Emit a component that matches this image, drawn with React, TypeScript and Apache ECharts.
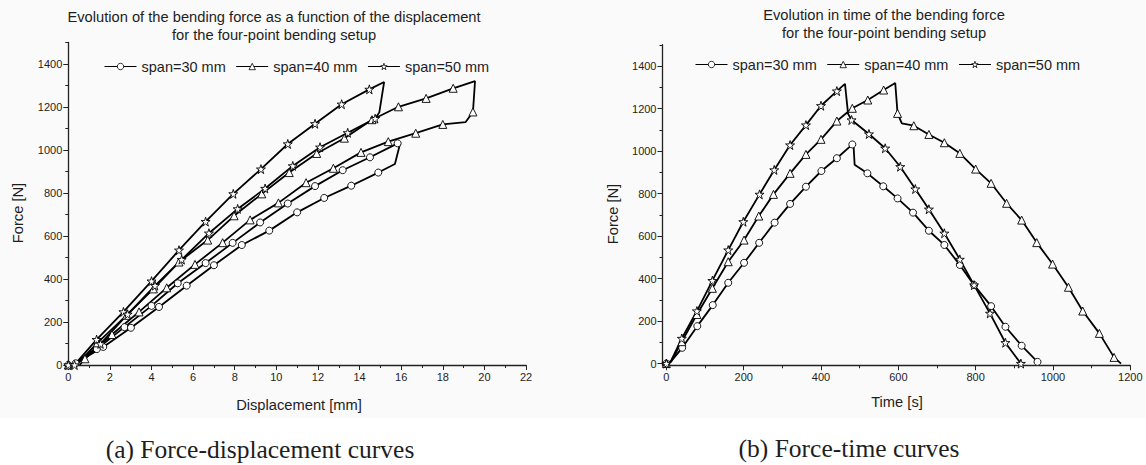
import React, { useEffect, useRef } from "react";
import * as echarts from "echarts";

// ---- Data ----
const seriesNames = ["span=30 mm", "span=40 mm", "span=50 mm"];

// span = 30 mm (circles)
const time30 = [0, 12, 41, 80, 120, 160, 201, 240, 280, 320, 361, 401, 441, 481, 484, 487, 520, 561, 598, 638, 679, 719, 759, 796, 840, 877, 919, 960];
const disp30 = [0, 0.45, 1.37, 2.7, 4.0, 5.26, 6.6, 7.9, 9.22, 10.55, 11.86, 13.19, 14.5, 15.83, 15.95, 15.7, 14.9, 13.6, 12.3, 11.0, 9.66, 8.34, 7.0, 5.69, 4.36, 3.01, 1.68, 0.35];
const force30 = [0, 10, 74, 176, 275, 380, 474, 568, 663, 751, 832, 906, 966, 1031, 1030, 935, 895, 834, 777, 710, 625, 558, 464, 369, 270, 173, 84, 8];
const plain30 = [1, 14, 15];

// span = 40 mm (triangles)
const time40 = [0, 12, 40, 79, 119, 160, 201, 239, 277, 320, 361, 400, 441, 481, 521, 562, 592, 598, 609, 640, 679, 719, 759, 800, 840, 880, 919, 958, 999, 1040, 1077, 1120, 1158, 1176];
const disp40 = [0, 0.45, 1.4, 2.8, 4.09, 5.32, 6.7, 7.97, 9.3, 10.62, 11.94, 13.27, 14.6, 15.87, 17.2, 18.5, 19.55, 19.45, 19.1, 18.0, 16.7, 15.38, 14.07, 12.74, 11.43, 10.1, 8.74, 7.42, 6.09, 4.73, 3.4, 2.1, 0.8, 0.55];
const force40 = [0, 8, 103, 231, 354, 479, 581, 694, 796, 895, 984, 1055, 1141, 1201, 1240, 1287, 1320, 1177, 1130, 1119, 1078, 1039, 989, 915, 848, 754, 675, 569, 468, 359, 247, 142, 29, 0];
const plain40 = [1, 16, 18, 33];

// span = 50 mm (stars)
const time50 = [0, 12, 40, 79, 119, 160, 199, 241, 279, 320, 361, 400, 441, 462, 470, 479, 524, 566, 605, 644, 679, 719, 759, 796, 837, 877, 917];
const disp50 = [0, 0.4, 1.36, 2.65, 4.0, 5.32, 6.6, 7.93, 9.26, 10.55, 11.86, 13.14, 14.47, 15.18, 14.95, 14.75, 13.43, 12.1, 10.79, 9.46, 8.14, 6.76, 5.45, 4.17, 2.85, 1.55, 0.3];
const force50 = [0, 12, 118, 247, 390, 534, 667, 796, 911, 1028, 1122, 1213, 1282, 1316, 1175, 1146, 1080, 1013, 926, 821, 726, 613, 490, 369, 236, 98, 0];
const plain50 = [1, 13, 14];

// Tick labels
const forceLabels = [0, 200, 400, 600, 800, 1000, 1200, 1400];
const forceMinor = [100, 300, 500, 700, 900, 1100, 1300, 1500];
const dispLabels = [0, 2, 4, 6, 8, 10, 12, 14, 16, 18, 20, 22];
const dispMinor = [1, 3, 5, 7, 9, 11, 13, 15, 17, 19, 21];
const timeLabels = [0, 200, 400, 600, 800, 1000, 1200];
const timeMinor = [100, 300, 500, 700, 900, 1100];

const STAR = "path://M50,2 L61,36 L97,36 L68,57 L79,92 L50,70 L21,92 L32,57 L3,36 L39,36 Z";
const symbols = ["circle", "triangle", STAR];
const symbolSizes = [7, 8, 9];

const FONT = "Liberation Sans, Arial, sans-serif";
const SERIF = "Liberation Serif, 'Times New Roman', serif";
const INK = "#1e1e1e";

function pts(xs: number[], ys: number[], plain: number[]) {
  return xs.map((x, i) =>
    plain.includes(i) ? { value: [x, ys[i]], symbol: "none" } : [x, ys[i]]
  );
}

function mainAxis(gridIndex: number, position: string, min: number, max: number, labels: number[]) {
  return {
    type: "value",
    gridIndex,
    position,
    min,
    max,
    splitLine: { show: false },
    axisLine: { show: true, onZero: false, lineStyle: { color: "#222", width: 1.3 } },
    axisTick: { show: true, inside: false, length: 5, customValues: labels, lineStyle: { color: "#222", width: 1 } },
    axisLabel: {
      show: true,
      customValues: labels,
      formatter: (v: number) => String(v),
      fontSize: 11,
      color: INK,
      fontFamily: FONT,
      margin: 6,
    },
  };
}
function minorAxis(gridIndex: number, position: string, min: number, max: number, minor: number[]) {
  return {
    type: "value",
    gridIndex,
    position,
    min,
    max,
    splitLine: { show: false },
    axisLine: { show: false, onZero: false },
    axisTick: { show: true, inside: false, length: 3, customValues: minor, lineStyle: { color: "#222", width: 1 } },
    axisLabel: { show: false },
  };
}

export default function App() {
  const ref = useRef<HTMLDivElement>(null);
  useEffect(() => {
    if (!ref.current) return;
    const chart = echarts.init(ref.current, undefined, { renderer: "svg" });

    const sets = [
      { t: time30, d: disp30, f: force30, p: plain30 },
      { t: time40, d: disp40, f: force40, p: plain40 },
      { t: time50, d: disp50, f: force50, p: plain50 },
    ];

    const series: any[] = [];
    sets.forEach((s, k) => {
      const common = {
        type: "line",
        name: seriesNames[k],
        symbol: symbols[k],
        symbolSize: symbolSizes[k],
        showSymbol: true,
        showAllSymbol: true,
        lineStyle: { color: "#000", width: 1.8 },
        itemStyle: { color: "#fff", borderColor: "#000", borderWidth: 0.9 },
        emphasis: { disabled: true },
      };
      series.push({ ...common, xAxisIndex: 0, yAxisIndex: 0, data: pts(s.d, s.f, s.p) });
      series.push({ ...common, xAxisIndex: 2, yAxisIndex: 2, data: pts(s.t, s.f, s.p) });
    });

    const txt = (text: string, x: number, y: number, size: number, extra: any = {}) => ({
      type: "text",
      x,
      y,
      rotation: extra.rotation || 0,
      style: {
        text,
        fill: INK,
        font: `${size}px ${extra.family || FONT}`,
        textAlign: "center",
        textVerticalAlign: "middle",
      },
    });

    const legendBase = {
      data: seriesNames,
      itemWidth: 32,
      itemHeight: 8,
      itemGap: 10,
      selectedMode: false,
      itemStyle: { color: "#fff", borderColor: "#000", borderWidth: 0.8 },
      lineStyle: { color: "#000", width: 1 },
      textStyle: { fontSize: 14.5, color: INK, fontFamily: FONT },
    };

    chart.setOption({
      animation: false,
      backgroundColor: "#ffffff",
      grid: [
        { left: 68.3, top: 42.5, width: 457.7, height: 322.5 },
        { left: 662.5, top: 44.75, width: 467.8, height: 320.5 },
      ],
      xAxis: [
        mainAxis(0, "bottom", 0, 22, dispLabels),
        minorAxis(0, "bottom", 0, 22, dispMinor),
        mainAxis(1, "bottom", -10, 1200, timeLabels),
        minorAxis(1, "bottom", -10, 1200, timeMinor),
      ],
      yAxis: [
        mainAxis(0, "left", 0, 1500, forceLabels),
        minorAxis(0, "left", 0, 1500, forceMinor),
        mainAxis(1, "left", -8, 1500, forceLabels),
        minorAxis(1, "left", -8, 1500, forceMinor),
      ],
      legend: [
        { ...legendBase, left: 99, top: 54 },
        { ...legendBase, left: 690, top: 52 },
      ],
      graphic: [
        { type: "rect", z: -10, silent: true, shape: { x: 0, y: 0, width: 1146, height: 418 }, style: { fill: "#fafafa" } },
        txt("Evolution of the bending force as a function of the displacement", 274, 17, 14.7),
        txt("for the four-point bending setup", 274, 35, 14.7),
        txt("Evolution in time of the bending force", 884, 15, 14.7),
        txt("for the four-point bending setup", 884, 33, 14.7),
        txt("Force [N]", 18, 213, 14.7, { rotation: Math.PI / 2 }),
        txt("Force [N]", 613, 214, 14.7, { rotation: Math.PI / 2 }),
        txt("Displacement [mm]", 299, 405, 14.7),
        txt("Time [s]", 897, 402, 14.7),
        txt("(a) Force-displacement curves", 260, 449, 25.5, { family: SERIF }),
        txt("(b) Force-time curves", 849, 448, 25.5, { family: SERIF }),
      ],
      series,
    });
    return () => chart.dispose();
  }, []);

  return (
    <div
      ref={ref}
      style={{ position: "fixed", left: 0, top: 0, width: 1146, height: 465 }}
    />
  );
}
